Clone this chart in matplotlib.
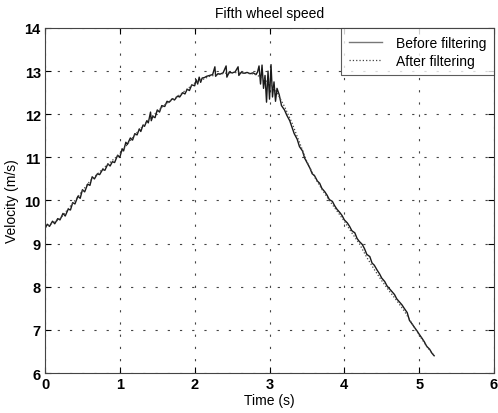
import matplotlib
matplotlib.use("Agg")
import matplotlib.pyplot as plt

# filtered signal (after filtering)
filt_t = [0.0, 0.2, 0.4, 0.6, 0.8, 1.0, 1.2, 1.4, 1.6, 1.8, 2.0, 2.2, 2.4, 2.6,
          2.8, 2.9, 3.0, 3.1, 3.2, 3.3, 3.4, 3.5, 3.6, 3.7, 3.8, 3.9, 4.0, 4.1,
          4.2, 4.3, 4.4, 4.5, 4.6, 4.7, 4.8, 4.9, 5.0, 5.1, 5.2]
filt_v = [9.38, 9.57, 10.0, 10.45, 10.78, 11.08, 11.52, 11.9, 12.22, 12.45,
          12.72, 12.88, 12.95, 12.97, 12.93, 12.85, 12.72, 12.5, 12.18, 11.8,
          11.35, 10.9, 10.55, 10.26, 10.0, 9.76, 9.52, 9.25, 9.0, 8.68, 8.4,
          8.14, 7.9, 7.68, 7.44, 7.16, 6.88, 6.62, 6.4]

# raw signal (before filtering), (time, velocity) pairs
raw_points = [
    (0.00, 9.35), (0.03, 9.45), (0.06, 9.40), (0.10, 9.52), (0.13, 9.46),
    (0.17, 9.58), (0.20, 9.55), (0.24, 9.70), (0.27, 9.64), (0.31, 9.80),
    (0.34, 9.78), (0.37, 9.95), (0.40, 9.92), (0.44, 10.10), (0.47, 10.05),
    (0.50, 10.25), (0.53, 10.20), (0.57, 10.38), (0.60, 10.35), (0.63, 10.55),
    (0.66, 10.50), (0.70, 10.62), (0.73, 10.60), (0.77, 10.72), (0.80, 10.70),
    (0.84, 10.85), (0.87, 10.80), (0.90, 10.90), (0.93, 10.88), (0.97, 11.05),
    (1.00, 11.00), (1.03, 11.20), (1.05, 11.15), (1.08, 11.35), (1.10, 11.30),
    (1.14, 11.45), (1.17, 11.40), (1.20, 11.55), (1.23, 11.52), (1.26, 11.66),
    (1.28, 11.60), (1.31, 11.75), (1.33, 11.72), (1.36, 11.85), (1.38, 11.80),
    (1.41, 12.05), (1.42, 11.85), (1.44, 11.95), (1.47, 11.92), (1.50, 12.10),
    (1.53, 12.05), (1.56, 12.20), (1.60, 12.18), (1.63, 12.30), (1.66, 12.28),
    (1.70, 12.36), (1.73, 12.33), (1.77, 12.42), (1.80, 12.40), (1.84, 12.50),
    (1.87, 12.47), (1.90, 12.58), (1.93, 12.55), (1.96, 12.68), (2.00, 12.66),
    (2.02, 12.80), (2.04, 12.70), (2.06, 12.86), (2.08, 12.74), (2.10, 12.84),
    (2.13, 12.85), (2.16, 12.88), (2.20, 12.90), (2.24, 12.92), (2.27, 13.10),
    (2.28, 12.88), (2.31, 12.94), (2.34, 12.93), (2.38, 12.96), (2.42, 13.12),
    (2.43, 12.86), (2.46, 12.97), (2.50, 12.96), (2.54, 12.98), (2.58, 13.10),
    (2.59, 12.90), (2.62, 12.97), (2.66, 12.95), (2.70, 12.97), (2.74, 12.94),
    (2.78, 12.96), (2.82, 12.92), (2.84, 12.98), (2.86, 13.12), (2.88, 12.70),
    (2.90, 13.14), (2.92, 12.60), (2.94, 12.90), (2.96, 12.28), (2.98, 13.00),
    (3.00, 12.35), (3.02, 13.15), (3.04, 12.40), (3.06, 12.75), (3.08, 12.30),
    (3.10, 12.60), (3.13, 12.45), (3.16, 12.20), (3.20, 12.10), (3.23, 11.98),
    (3.27, 11.85), (3.30, 11.70), (3.33, 11.55), (3.37, 11.42), (3.40, 11.25),
    (3.44, 11.15), (3.47, 10.98), (3.50, 10.88), (3.54, 10.75), (3.57, 10.62),
    (3.60, 10.58), (3.64, 10.45), (3.67, 10.40), (3.70, 10.28), (3.74, 10.20),
    (3.77, 10.12), (3.80, 10.02), (3.84, 9.98), (3.87, 9.88), (3.90, 9.80),
    (3.94, 9.72), (3.97, 9.65), (4.00, 9.55), (4.04, 9.48), (4.07, 9.40),
    (4.10, 9.30), (4.14, 9.25), (4.17, 9.12), (4.20, 9.05), (4.24, 8.98),
    (4.27, 8.88), (4.30, 8.75), (4.34, 8.70), (4.37, 8.55), (4.40, 8.50),
    (4.44, 8.38), (4.47, 8.30), (4.50, 8.20), (4.54, 8.12), (4.57, 8.02),
    (4.60, 7.96), (4.64, 7.88), (4.67, 7.82), (4.70, 7.72), (4.74, 7.64),
    (4.77, 7.58), (4.80, 7.50), (4.84, 7.40), (4.87, 7.22), (4.90, 7.15),
    (4.94, 7.05), (4.97, 6.98), (5.00, 6.90), (5.04, 6.80), (5.07, 6.72),
    (5.10, 6.62), (5.14, 6.55), (5.17, 6.46), (5.20, 6.40),
]
raw_t = [p[0] for p in raw_points]
raw_v = [p[1] for p in raw_points]

xticks = [0, 1, 2, 3, 4, 5, 6]
yticks = [6, 7, 8, 9, 10, 11, 12, 13, 14]

plt.rcParams["font.family"] = ["Liberation Sans", "DejaVu Sans"]

fig = plt.figure(figsize=(4.98, 4.14), dpi=100)
ax = fig.add_axes([0.0904, 0.0966, 0.9016, 0.8334])

ax.plot(raw_t, raw_v, color="#1a1a1a", linewidth=1.0, linestyle="-",
        label="Before filtering")
ax.plot(filt_t, filt_v, color="#444444", linewidth=0.9, linestyle=":",
        label="After filtering")

ax.set_xlim(0, 6)
ax.set_ylim(6, 14)
ax.set_xticks(xticks)
ax.set_yticks(yticks)
ax.tick_params(direction="in", top=True, right=True, length=4,
               labelsize=10.5, pad=3)
for lbl in ax.get_xticklabels() + ax.get_yticklabels():
    lbl.set_fontweight("bold")
ax.grid(True, linestyle=(0, (2, 9)), color="#444444", linewidth=0.8)
for s in ax.spines.values():
    s.set_linewidth(0.8)
    s.set_color("#444444")

ax.set_xlabel("Time (s)", fontsize=10, labelpad=1)
ax.set_ylabel("Velocity (m/s)", fontsize=10, labelpad=4)
ax.set_title("Fifth wheel speed", fontsize=10, pad=8)

leg = ax.legend(loc="upper right", fontsize=10, frameon=True, fancybox=False,
                borderpad=0.55, handlelength=2.4, borderaxespad=0.0,
                labelspacing=0.3, handletextpad=1.0)
leg.get_frame().set_edgecolor("#333333")
leg.get_frame().set_linewidth(0.8)
leg.get_lines()[0].set_color("#777777")

fig.savefig("out.png", dpi=100)
